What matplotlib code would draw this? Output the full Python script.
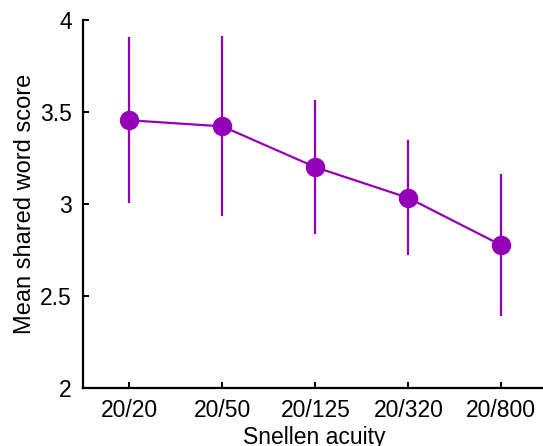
import matplotlib
matplotlib.use('Agg')
import matplotlib.pyplot as plt

plt.rcParams['font.family'] = ['Liberation Sans', 'DejaVu Sans']

# 数据
acuity = ['20/20', '20/50', '20/125', '20/320', '20/800']
mean_score = [3.455, 3.422, 3.200, 3.033, 2.776]
err_upper = [3.905, 3.912, 3.563, 3.346, 3.163]
err_lower = [3.008, 2.935, 2.835, 2.725, 2.390]

color = '#9400B8'
x = list(range(1, len(acuity) + 1))
yerr = [[m - lo for m, lo in zip(mean_score, err_lower)],
        [hi - m for m, hi in zip(mean_score, err_upper)]]

fig = plt.figure(figsize=(5.43, 4.46), dpi=100)
ax = fig.add_axes([83 / 543, 58 / 446, 462 / 543, 368 / 446])

ax.errorbar(x, mean_score, yerr=yerr, color=color, linewidth=1.6,
            elinewidth=1.6, capsize=0, marker='o', markersize=13, zorder=3)

ax.set_xlim(0.5, 5.47)
ax.set_ylim(2, 4)
ax.set_xticks(x)
ax.set_xticklabels(acuity)
ax.set_yticks([2, 2.5, 3, 3.5, 4])
ax.set_yticklabels(['2', '2.5', '3', '3.5', '4'])

for side in ['top', 'right']:
    ax.spines[side].set_visible(False)
for side in ['left', 'bottom']:
    ax.spines[side].set_linewidth(1.6)

ax.tick_params(direction='in', length=4, width=1.4, labelsize=16.5, pad=8)
ax.set_xlabel('Snellen acuity', fontsize=16.5, labelpad=3)
ax.set_ylabel('Mean shared word score', fontsize=17, labelpad=3)

fig.savefig('out.png', dpi=100)
